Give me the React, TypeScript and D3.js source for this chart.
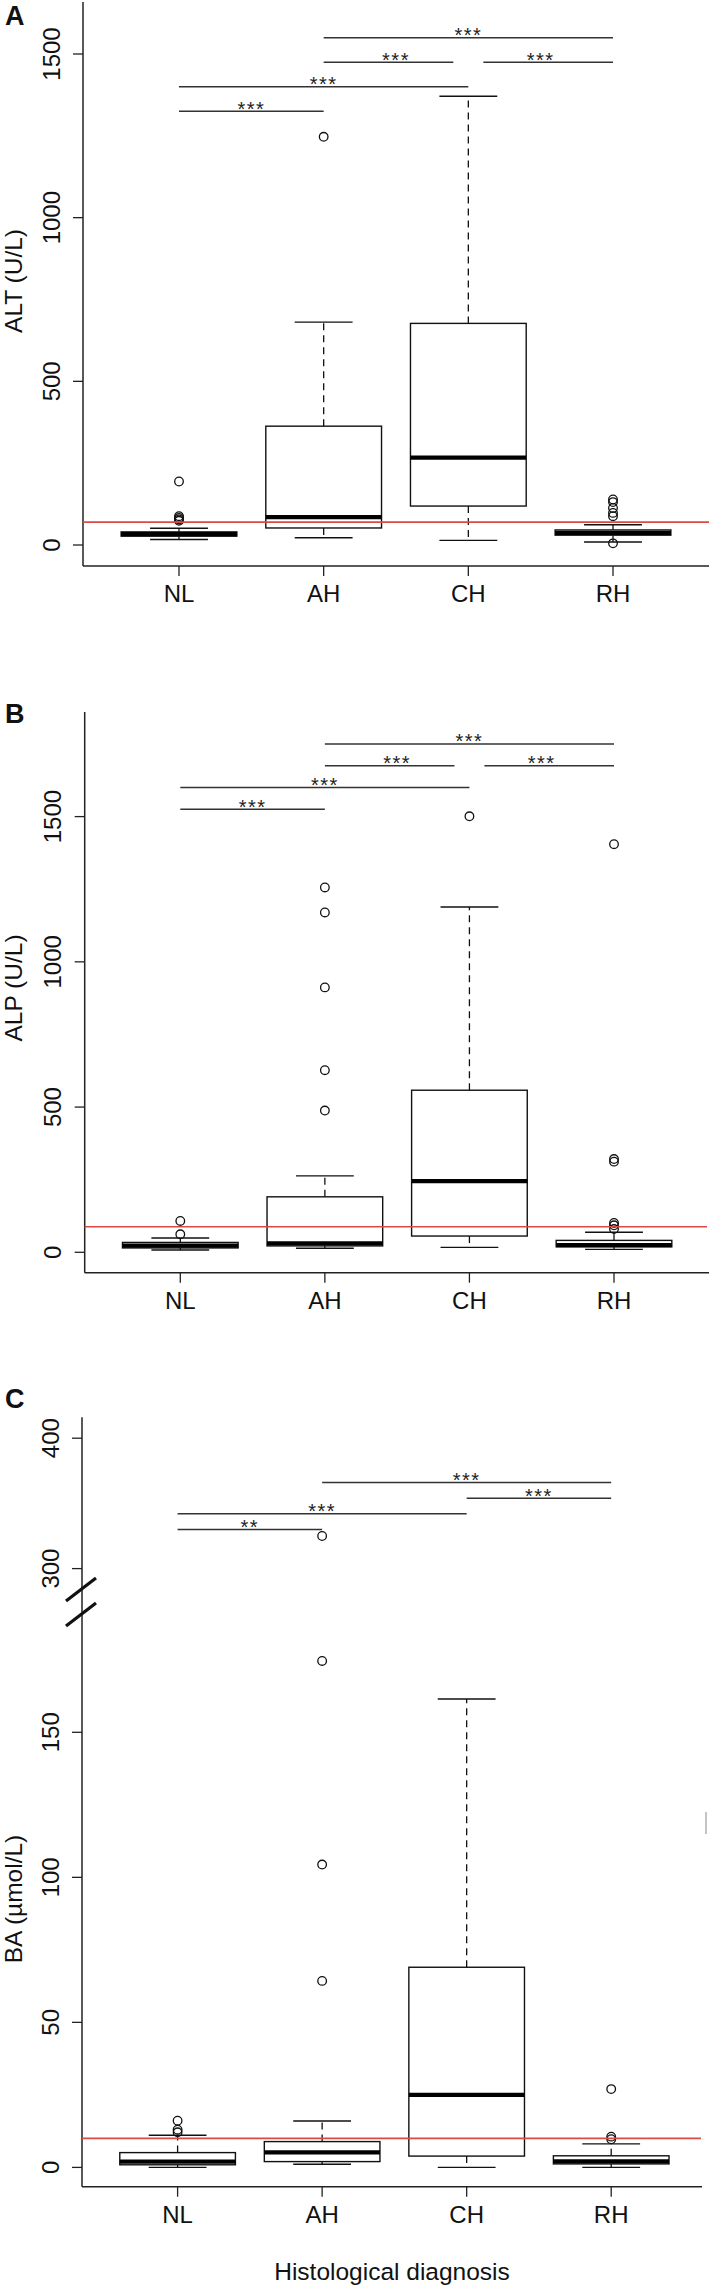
import React from "react";
import * as d3 from "d3";

const categories = ["NL", "AH", "CH", "RH"];

// Panel A: ALT (U/L)
const altLowerWhisker = [17, 22, 14, 9];
const altQ1 = [27, 52, 119, 30];
const altMedian = [33, 85, 267, 37];
const altQ3 = [40, 363, 677, 46];
const altUpperWhisker = [51, 681, 1371, 62];
const altOutliers = [[194, 88, 83, 78, 74], [1247], [], [139, 131, 113, 98, 88, 5]];
const altTicks = [0, 500, 1000, 1500];
const altRef = 70;
const altComparisons = [
  { a: "NL", b: "AH", y: 1325, label: "***" },
  { a: "NL", b: "CH", y: 1400, label: "***" },
  { a: "AH", b: "CH", y: 1475, label: "***" },
  { a: "CH", b: "RH", y: 1475, label: "***" },
  { a: "AH", b: "RH", y: 1550, label: "***" },
];

// Panel B: ALP (U/L)
const alpLowerWhisker = [8, 14, 17, 10];
const alpQ1 = [15, 22, 56, 19];
const alpMedian = [23, 31, 245, 25];
const alpQ3 = [34, 191, 558, 41];
const alpUpperWhisker = [49, 263, 1189, 69];
const alpOutliers = [[108, 62], [1256, 1170, 912, 627, 488], [1501], [1405, 321, 312, 101, 93, 80]];
const alpTicks = [0, 500, 1000, 1500];
const alpRef = 88;
const alpComparisons = [
  { a: "NL", b: "AH", y: 1525, label: "***" },
  { a: "NL", b: "CH", y: 1600, label: "***" },
  { a: "AH", b: "CH", y: 1675, label: "***" },
  { a: "CH", b: "RH", y: 1675, label: "***" },
  { a: "AH", b: "RH", y: 1750, label: "***" },
];

// Panel C: BA (µmol/L), broken axis
const baLowerWhisker = [0, 1.1, 0, 0];
const baQ1 = [0.9, 2.0, 3.9, 1.2];
const baMedian = [2.0, 5.2, 25.0, 2.1];
const baQ3 = [5.1, 8.9, 69, 4.0];
const baUpperWhisker = [11.1, 16, 161.5, 8.1];
const baOutliers = [[16.1, 13, 12.1], [325, 174.6, 104.4, 64.3], [], [27, 10.6, 9.7]];
const baTicks = [0, 50, 100, 150, 300, 400];
const baRef = 10;
const baComparisons = [
  { a: "NL", b: "AH", y: 330, label: "**" },
  { a: "NL", b: "CH", y: 342, label: "***" },
  { a: "CH", b: "RH", y: 354, label: "***" },
  { a: "AH", b: "RH", y: 366, label: "***" },
];

const FONT = "'Liberation Sans', Arial, Helvetica, sans-serif";
const AXIS = "#222";

type PanelProps = {
  letter: string;
  letterY: number;
  title: string;
  titleY: number;
  left: number;
  right: number;
  top: number;
  bottom: number;
  xRange: [number, number];
  y: (v: number) => number;
  lw: number[];
  q1: number[];
  med: number[];
  q3: number[];
  uw: number[];
  outliers: number[][];
  ticks: number[];
  refValue: number;
  refRight: number;
  comps: { a: string; b: string; y: number; label: string }[];
  xTitle?: string;
  extra?: React.ReactNode;
};

function Panel(p: PanelProps) {
  const x = d3.scalePoint<string>().domain(categories).range(p.xRange);
  const step = x.step();
  const bw = step * 0.8;
  const cw = bw / 2;
  const gap = 15;
  return (
    <g>
      <text x={5} y={p.letterY} fontFamily={FONT} fontWeight="bold" fontSize={27} fill="#111">
        {p.letter}
      </text>
      {/* axes */}
      <line x1={p.left} x2={p.left} y1={p.top} y2={p.bottom} stroke={AXIS} strokeWidth={1.5} />
      <line x1={p.left} x2={p.right} y1={p.bottom} y2={p.bottom} stroke={AXIS} strokeWidth={1.5} />
      {p.ticks.map((t) => (
        <g key={"t" + t}>
          <line x1={p.left - 10} x2={p.left} y1={p.y(t)} y2={p.y(t)} stroke={AXIS} strokeWidth={1.3} />
          <text
            transform={`translate(${p.left - 32},${p.y(t)}) rotate(-90)`}
            textAnchor="middle"
            dy="0.36em"
            fontFamily={FONT}
            fontSize={24}
            fill="#111"
          >
            {t}
          </text>
        </g>
      ))}
      {categories.map((c) => (
        <g key={"x" + c}>
          <line x1={x(c)} x2={x(c)} y1={p.bottom} y2={p.bottom + 10} stroke={AXIS} strokeWidth={1.3} />
          <text x={x(c)} y={p.bottom + 35.8} textAnchor="middle" fontFamily={FONT} fontSize={24} fill="#111">
            {c}
          </text>
        </g>
      ))}
      <text
        transform={`translate(${13},${p.titleY}) rotate(-90)`}
        textAnchor="middle"
        dy="0.36em"
        fontFamily={FONT}
        fontSize={24.5}
        fill="#111"
      >
        {p.title}
      </text>
      {/* boxes */}
      {categories.map((c, i) => {
        const cx = x(c) as number;
        return (
          <g key={"b" + c}>
            <line x1={cx} x2={cx} y1={p.y(p.q3[i])} y2={p.y(p.uw[i])} stroke="#111" strokeWidth={1.3} strokeDasharray="7,5" />
            <line x1={cx} x2={cx} y1={p.y(p.q1[i])} y2={p.y(p.lw[i])} stroke="#111" strokeWidth={1.3} strokeDasharray="7,5" />
            <line x1={cx - cw / 2} x2={cx + cw / 2} y1={p.y(p.uw[i])} y2={p.y(p.uw[i])} stroke="#111" strokeWidth={1.4} />
            <line x1={cx - cw / 2} x2={cx + cw / 2} y1={p.y(p.lw[i])} y2={p.y(p.lw[i])} stroke="#111" strokeWidth={1.4} />
            <rect
              x={cx - bw / 2}
              y={p.y(p.q3[i])}
              width={bw}
              height={p.y(p.q1[i]) - p.y(p.q3[i])}
              fill="white"
              stroke="#111"
              strokeWidth={1.4}
            />
            <line x1={cx - bw / 2} x2={cx + bw / 2} y1={p.y(p.med[i])} y2={p.y(p.med[i])} stroke="#000" strokeWidth={4.2} />
            {p.outliers[i].map((o, k) => (
              <circle key={k} cx={cx} cy={p.y(o)} r={4.3} fill="none" stroke="#111" strokeWidth={1.3} />
            ))}
          </g>
        );
      })}
      {/* reference line */}
      <line x1={p.left} x2={p.refRight} y1={p.y(p.refValue)} y2={p.y(p.refValue)} stroke="#dc4a45" strokeWidth={1.6} />
      {/* comparisons */}
      {p.comps.map((cmp, k) => {
        let x1 = x(cmp.a) as number;
        let x2 = x(cmp.b) as number;
        const same = p.comps.filter((o) => o !== cmp && o.y === cmp.y);
        if (same.some((o) => o.b === cmp.a || o.a === cmp.a)) x1 += gap;
        if (same.some((o) => o.a === cmp.b || o.b === cmp.b)) x2 -= gap;
        const mid = ((x(cmp.a) as number) + (x(cmp.b) as number)) / 2;
        const yy = p.y(cmp.y);
        return (
          <g key={"c" + k}>
            <line x1={x1} x2={x2} y1={yy} y2={yy} stroke="#333" strokeWidth={1.5} />
            <text x={mid} y={yy + 4.5} textAnchor="middle" fontFamily={FONT} fontSize={20} letterSpacing={1.5} fill="#222">
              {cmp.label}
            </text>
          </g>
        );
      })}
      {p.xTitle && (
        <text x={(p.left + p.right) / 2} y={2280} textAnchor="middle" fontFamily={FONT} fontSize={24.5} fill="#111">
          {p.xTitle}
        </text>
      )}
      {p.extra}
    </g>
  );
}

export default function App() {
  const yA = d3.scaleLinear().domain([0, 1500]).range([545, 54]);
  const yB = d3.scaleLinear().domain([0, 1500]).range([1252.3, 816.6]);
  const yCLow = d3.scaleLinear().domain([0, 150]).range([2167.4, 1732.3]);
  const yCHigh = d3.scaleLinear().domain([300, 400]).range([1568.6, 1438.2]);
  const yC = (v: number) => (v >= 250 ? yCHigh(v) : yCLow(v));

  const breakMarks = (
    <g>
      <line x1={66} y1={1601} x2={96} y2={1578} stroke="#111" strokeWidth={3.2} />
      <line x1={66} y1={1626} x2={96} y2={1603} stroke="#111" strokeWidth={3.2} />
      <rect x={705} y={1812} width={2} height={22} fill="#c4c4c4" />
    </g>
  );

  return (
    <svg
      width={709}
      height={2288}
      style={{ position: "absolute", left: 0, top: 0, background: "white" }}
    >
      <rect width={709} height={2288} fill="white" />
      <Panel
        letter="A"
        letterY={25}
        title="ALT (U/L)"
        titleY={281}
        left={83}
        right={709}
        top={2}
        bottom={566}
        xRange={[179, 613]}
        y={yA}
        lw={altLowerWhisker}
        q1={altQ1}
        med={altMedian}
        q3={altQ3}
        uw={altUpperWhisker}
        outliers={altOutliers}
        ticks={altTicks}
        refValue={altRef}
        refRight={709}
        comps={altComparisons}
      />
      <Panel
        letter="B"
        letterY={723}
        title="ALP (U/L)"
        titleY={988}
        left={84.7}
        right={709}
        top={712}
        bottom={1272.7}
        xRange={[180.3, 614]}
        y={yB}
        lw={alpLowerWhisker}
        q1={alpQ1}
        med={alpMedian}
        q3={alpQ3}
        uw={alpUpperWhisker}
        outliers={alpOutliers}
        ticks={alpTicks}
        refValue={alpRef}
        refRight={707}
        comps={alpComparisons}
      />
      <Panel
        letter="C"
        letterY={1408}
        title="BA (µmol/L)"
        titleY={1899}
        left={82}
        right={702}
        top={1417.3}
        bottom={2186.7}
        xRange={[177.6, 611.2]}
        y={yC}
        lw={baLowerWhisker}
        q1={baQ1}
        med={baMedian}
        q3={baQ3}
        uw={baUpperWhisker}
        outliers={baOutliers}
        ticks={baTicks}
        refValue={baRef}
        refRight={701}
        comps={baComparisons}
        xTitle="Histological diagnosis"
        extra={breakMarks}
      />
    </svg>
  );
}
